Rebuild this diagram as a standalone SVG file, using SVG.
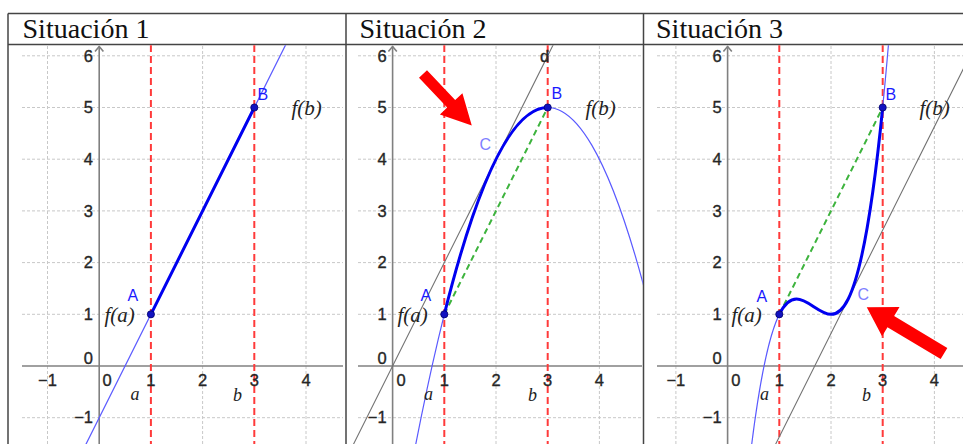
<svg xmlns="http://www.w3.org/2000/svg" width="963" height="444" viewBox="0 0 963 444">
<defs>
<style>
.grid{stroke:#c8c8c8;stroke-width:1;stroke-dasharray:3 2;fill:none}
.axis{stroke:#808080;stroke-width:1.6;fill:none}
.red{stroke:#ff3a3a;stroke-width:2;stroke-dasharray:7 4;fill:none}
.green{stroke:#3db33d;stroke-width:2;stroke-dasharray:6 4;fill:none}
.thin{stroke:#5a5aff;stroke-width:1.2;fill:none}
.thick{stroke:#0000f0;stroke-width:3;fill:none;stroke-linecap:round}
.tan{stroke:#707070;stroke-width:1.1;fill:none}
.pt{fill:#1212c0;stroke:#00006a;stroke-width:0.8}
.tick{font-family:"Liberation Sans",Arial,sans-serif;font-size:16.5px;fill:#262626;stroke:#262626;stroke-width:0.35}
.tr{text-anchor:end}
.tm{text-anchor:middle}
.lbl{font-family:"Liberation Sans",Arial,sans-serif;font-size:16px;fill:#1a1aff}
.lblc{font-family:"Liberation Sans",Arial,sans-serif;font-size:16px;fill:#8080ff}
.math{font-family:"Liberation Serif","Times New Roman",serif;font-style:italic;font-size:21px;fill:#222}
.var{font-family:"Liberation Serif","Times New Roman",serif;font-style:italic;font-size:18px;fill:#222}
.head{font-family:"Liberation Serif","Times New Roman",serif;font-size:27px;fill:#111}
.border{stroke:#444;stroke-width:1.5;fill:none}
.arrow{fill:#ff0000}
</style>
<clipPath id="c1"><rect x="9" y="45.3" width="336.3" height="400"/></clipPath>
<clipPath id="c2"><rect x="346.8" y="45.3" width="296" height="400"/></clipPath>
<clipPath id="c3"><rect x="644.3" y="45.3" width="320" height="400"/></clipPath>
</defs>
<rect width="963" height="444" fill="#fff"/>

<g id="table">
<line class="border" x1="8" y1="13.5" x2="963" y2="13.5"/>
<line class="border" x1="8" y1="44.5" x2="963" y2="44.5"/>
<line class="border" x1="8" y1="13.5" x2="8" y2="444"/>
<line class="border" x1="346" y1="13.5" x2="346" y2="444"/>
<line class="border" x1="643.5" y1="13.5" x2="643.5" y2="444"/>
<text class="head" x="22.5" y="38" textLength="127" lengthAdjust="spacingAndGlyphs">Situación 1</text>
<text class="head" x="359.5" y="38" textLength="127" lengthAdjust="spacingAndGlyphs">Situación 2</text>
<text class="head" x="656" y="38" textLength="127" lengthAdjust="spacingAndGlyphs">Situación 3</text>
</g>

<!-- Panel 1 -->
<g id="panel1" clip-path="url(#c1)">
<g id="grid1">
<path class="grid" d="M22 55.8H343M22 107.5H343M22 159.2H343M22 210.9H343M22 262.6H343M22 314.3H343M22 417.7H343"/>
<path class="grid" d="M47.5 46V444M202.6 46V444M306 46V444"/>
</g>
<g id="axes1">
<line class="axis" x1="22" y1="366" x2="343" y2="366"/>
<line class="axis" x1="99.2" y1="46.5" x2="99.2" y2="444"/>
<path class="axis" d="M95 51.5L99.2 46.5L103.4 51.5"/>
</g>
<line class="red" x1="150.9" y1="45" x2="150.9" y2="444"/>
<line class="red" x1="254.3" y1="45" x2="254.3" y2="444"/>
<line class="thin" x1="83.69" y1="448.72" x2="290.49" y2="35.12"/>
<line class="thick" x1="150.9" y1="314.3" x2="254.3" y2="107.5"/>
<circle id="p1A" class="pt" cx="150.9" cy="314.3" r="3.6"/>
<circle id="p1B" class="pt" cx="254.3" cy="107.5" r="3.6"/>
<g id="ticks1" class="tick">
<text class="tr" x="93" y="61.5">6</text>
<text class="tr" x="93" y="113.2">5</text>
<text class="tr" x="93" y="164.9">4</text>
<text class="tr" x="93" y="216.6">3</text>
<text class="tr" x="93" y="268.3">2</text>
<text class="tr" x="93" y="320">1</text>
<text class="tr" x="93" y="364">0</text>
<text class="tr" x="93" y="423.4">−1</text>
<text class="tm" x="47.5" y="385.5">−1</text>
<text class="tm" x="107.2" y="385.5">0</text>
<text class="tm" x="150.9" y="385.5">1</text>
<text class="tm" x="202.6" y="385.5">2</text>
<text class="tm" x="254.3" y="385.5">3</text>
<text class="tm" x="306" y="385.5">4</text>
</g>
<text class="lbl" x="127.5" y="301">A</text>
<text class="lbl" x="257.5" y="100">B</text>
<text class="math" x="104.5" y="322">f(a)</text>
<text class="math" x="291.5" y="115">f(b)</text>
<text class="var" x="130.5" y="400">a</text>
<text class="var" x="233" y="401">b</text>
</g>

<!-- Panel 2 -->
<g id="panel2" clip-path="url(#c2)">
<g id="grid2">
<path class="grid" d="M358 55.8H642M358 107.5H642M358 159.2H642M358 210.9H642M358 262.6H642M358 314.3H642M358 417.7H642"/>
<path class="grid" d="M496 46V444M599.4 46V444"/>
</g>
<g id="axes2">
<line class="axis" x1="358" y1="366" x2="642" y2="366"/>
<line class="axis" x1="392.6" y1="46.5" x2="392.6" y2="444"/>
<path class="axis" d="M388.4 51.5L392.6 46.5L396.8 51.5"/>
</g>
<line class="red" x1="444.3" y1="45" x2="444.3" y2="444"/>
<line class="red" x1="547.7" y1="45" x2="547.7" y2="444"/>
<line id="d2" class="tan" x1="351.24" y1="448.72" x2="558.04" y2="35.12"/>
<line class="green" x1="444.3" y1="314.3" x2="547.7" y2="107.5"/>
<path class="thin" d="M413.28 456.99Q532.19 -161.34 651.1 314.3"/>
<path class="thick" d="M444.3 314.3Q496 107.5 547.7 107.5"/>
<circle id="p2A" class="pt" cx="444.3" cy="314.3" r="3.6"/>
<circle id="p2B" class="pt" cx="547.7" cy="107.5" r="3.6"/>
<g id="ticks2" class="tick">
<text class="tr" x="386.6" y="61.5">6</text>
<text class="tr" x="386.6" y="113.2">5</text>
<text class="tr" x="386.6" y="164.9">4</text>
<text class="tr" x="386.6" y="216.6">3</text>
<text class="tr" x="386.6" y="268.3">2</text>
<text class="tr" x="386.6" y="320">1</text>
<text class="tr" x="386.6" y="364">0</text>
<text class="tr" x="386.6" y="423.4">−1</text>
<text class="tm" x="401" y="385.5">0</text>
<text class="tm" x="444.3" y="385.5">1</text>
<text class="tm" x="496" y="385.5">2</text>
<text class="tm" x="547.7" y="385.5">3</text>
<text class="tm" x="599.4" y="385.5">4</text>
</g>
<text class="lbl" x="420.5" y="301">A</text>
<text class="lbl" x="551.5" y="99">B</text>
<text class="lblc" x="479.5" y="150">C</text>
<text class="tick" x="540" y="62">d</text>
<text class="math" x="397.5" y="322">f(a)</text>
<text class="math" x="585.5" y="115">f(b)</text>
<text class="var" x="424" y="400">a</text>
<text class="var" x="528" y="401">b</text>
<polygon id="arrow2" class="arrow" transform="translate(423 74) rotate(46.6)" points="0,-5.5 41,-5.5 41,-15.5 71,0 41,15.5 41,5.5 0,5.5"/>
</g>

<!-- Panel 3 -->
<g id="panel3" clip-path="url(#c3)">
<g id="grid3">
<path class="grid" d="M657 55.8H963M657 107.5H963M657 159.2H963M657 210.9H963M657 262.6H963M657 314.3H963M657 417.7H963"/>
<path class="grid" d="M675.9 46V444M831 46V444M934.4 46V444"/>
</g>
<g id="axes3">
<line class="axis" x1="657" y1="366" x2="963" y2="366"/>
<line class="axis" x1="727.6" y1="46.5" x2="727.6" y2="444"/>
<path class="axis" d="M723.4 51.5L727.6 46.5L731.8 51.5"/>
</g>
<line class="red" x1="779.3" y1="45" x2="779.3" y2="444"/>
<line class="red" x1="882.7" y1="45" x2="882.7" y2="444"/>
<line class="tan" x1="768.96" y1="457.5" x2="975.76" y2="43.9"/>
<line class="green" x1="779.3" y1="314.3" x2="882.7" y2="107.5"/>
<path class="thin" d="M748.28 473.12C796.53 40.77 844.79 635.25 893.04 -13.27"/>
<path class="thick" d="M779.3 314.3C813.77 245.37 848.23 452.17 882.7 107.5"/>
<circle id="p3A" class="pt" cx="779.3" cy="314.3" r="3.6"/>
<circle id="p3B" class="pt" cx="882.7" cy="107.5" r="3.6"/>
<g id="ticks3" class="tick">
<text class="tr" x="721.6" y="61.5">6</text>
<text class="tr" x="721.6" y="113.2">5</text>
<text class="tr" x="721.6" y="164.9">4</text>
<text class="tr" x="721.6" y="216.6">3</text>
<text class="tr" x="721.6" y="268.3">2</text>
<text class="tr" x="721.6" y="320">1</text>
<text class="tr" x="721.6" y="364">0</text>
<text class="tr" x="721.6" y="423.4">−1</text>
<text class="tm" x="675.9" y="385.5">−1</text>
<text class="tm" x="735.8" y="385.5">0</text>
<text class="tm" x="779.3" y="385.5">1</text>
<text class="tm" x="831" y="385.5">2</text>
<text class="tm" x="882.7" y="385.5">3</text>
<text class="tm" x="934.4" y="385.5">4</text>
</g>
<text class="lbl" x="756.5" y="302">A</text>
<text class="lbl" x="885.5" y="100">B</text>
<text class="lblc" x="857.5" y="300">C</text>
<text class="math" x="731.5" y="322">f(a)</text>
<text class="math" x="919.5" y="115">f(b)</text>
<text class="var" x="760" y="400">a</text>
<text class="var" x="862" y="401">b</text>
<polygon id="arrow3" class="arrow" transform="translate(944 353.5) rotate(210.9)" points="0,-6.5 62,-6.5 62,-17 90,0 62,17 62,6.5 0,6.5"/>
</g>
</svg>
